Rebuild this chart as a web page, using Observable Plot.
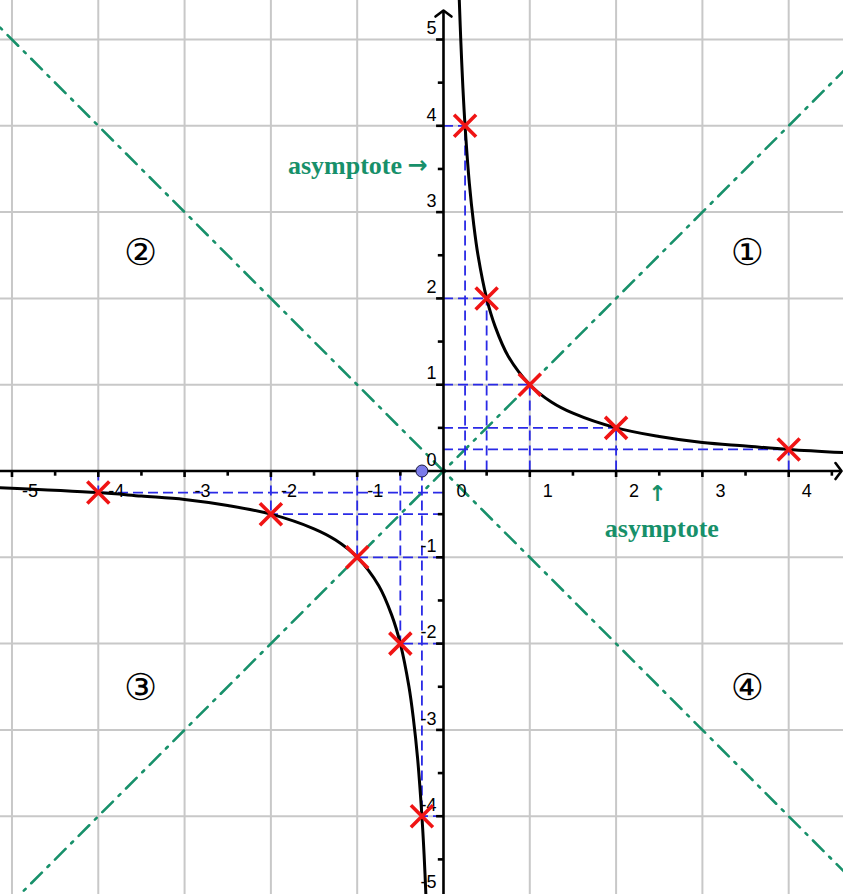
<!DOCTYPE html>
<html><head><meta charset="utf-8">
<script src="https://cdn.jsdelivr.net/npm/d3@7"></script>
<script src="https://cdn.jsdelivr.net/npm/@observablehq/plot@0.6"></script>
<style>html,body{margin:0;padding:0;background:#fff;} #chart svg{display:block;}</style>
</head><body><div id="chart"></div>
<script>
// ---- data ----
const xDomain = [-5.133, 4.635];
const yDomain = [-4.907, 5.452];
const gridX = [-5, -4, -3, -2, -1, 1, 2, 3, 4];
const gridY = [-4, -3, -2, -1, 1, 2, 3, 4, 5];
const majorTicksX = [-5, -4, -3, -2, -1, 1, 2, 3, 4];
const minorTicksX = [-4.5, -3.5, -2.5, -1.5, -0.5, 0.5, 1.5, 2.5, 3.5, 4.5];
const majorTicksY = [-4, -3, -2, -1, 1, 2, 3, 4, 5];
const minorTicksY = [-4.5, -3.5, -2.5, -1.5, -0.5, 0.5, 1.5, 2.5, 3.5, 4.5];
const xLabelValues = [-5, -4, -3, -2, -1, 0, 1, 2, 3, 4];
const xLabels = ["-5", "-4", "-3", "-2", "-1", "0", "1", "2", "3", "4"];
const yLabelValues = [5, 4, 3, 2, 1, 0, -1, -2, -3, -4];
const yLabels = ["5", "4", "3", "2", "1", "0", "-1", "-2", "-3", "-4"];
const yEdgeLabelValues = [-5];
const yEdgeLabels = ["-5"];

// curve y = 1/x
const curvePosX = [0.183, 0.2, 0.225, 0.25, 0.3, 0.35, 0.4, 0.5, 0.6, 0.75, 1, 1.25, 1.5, 2, 2.5, 3, 3.5, 4, 4.7];
const curvePosY = [5.46, 5, 4.44, 4, 3.33, 2.86, 2.5, 2, 1.67, 1.33, 1, 0.8, 0.67, 0.5, 0.4, 0.33, 0.29, 0.25, 0.21];
const curveNegX = [-5.2, -4, -3.5, -3, -2.5, -2, -1.5, -1.25, -1, -0.75, -0.6, -0.5, -0.4, -0.35, -0.3, -0.25, -0.225, -0.2];
const curveNegY = [-0.19, -0.25, -0.29, -0.33, -0.4, -0.5, -0.67, -0.8, -1, -1.33, -1.67, -2, -2.5, -2.86, -3.33, -4, -4.44, -5];

// marked points
const pointX = [0.25, 0.5, 1, 2, 4, -4, -2, -1, -0.5, -0.25];
const pointY = [4, 2, 1, 0.5, 0.25, -0.25, -0.5, -1, -2, -4];

// diagonal lines y = x and y = -x
const diagX = [-5.6, 5.6];

// quadrant labels
const quadLabels = ["①", "②", "③", "④"];
const quadX = [3.52, -3.51, -3.51, 3.52];
const quadY = [2.52, 2.52, -2.52, -2.52];

// annotations
const annTopText = ["asymptote"];
const annTopX = [-0.48];
const annTopY = [3.54];
const annTopArrow = ["→"];
const annTopArrowX = [-0.3];
const annBottomArrow = ["↑"];
const annBottomArrowX = [2.48];
const annBottomArrowY = [-0.27];
const annBottomText = ["asymptote"];
const annBottomX = [2.53];
const annBottomY = [-0.67];

// special point on x-axis
const markerPointX = [-0.25];
const markerPointY = [0];

// axis arrow tips
const arrowTipX = 4.612;
const arrowTipY = 5.336;

// ---- helpers ----
const curve = [
  ...curveNegX.map((x, i) => ({x, y: curveNegY[i], b: "neg"})),
  ...curvePosX.map((x, i) => ({x, y: curvePosY[i], b: "pos"}))
];
const points = pointX.map((x, i) => ({x, y: pointY[i]}));
const diagUp = diagX.map(x => ({x, y: x}));
const diagDown = diagX.map(x => ({x, y: -x}));
const quads = quadLabels.map((t, i) => ({t, x: quadX[i], y: quadY[i]}));

const crossSymbol = {draw(ctx, size) {
  const r = Math.sqrt(size / Math.PI);
  ctx.moveTo(-r, -r); ctx.lineTo(r, r);
  ctx.moveTo(-r, r); ctx.lineTo(r, -r);
}};
const chevronUp = {draw(ctx, size) {
  const r = Math.sqrt(size / Math.PI);
  ctx.moveTo(-r, r * 0.75); ctx.lineTo(0, 0); ctx.lineTo(r, r * 0.75);
}};
const chevronRight = {draw(ctx, size) {
  const r = Math.sqrt(size / Math.PI);
  ctx.moveTo(-r * 0.75, -r); ctx.lineTo(0, 0); ctx.lineTo(-r * 0.75, r);
}};

const green = "#17906a";
const blue = "#2a2ae6";
const labelFont = "'Liberation Sans', Arial, sans-serif";
const serif = "'Liberation Serif', 'Times New Roman', serif";

const chart = Plot.plot({
  width: 843,
  height: 894,
  margin: 0,
  x: {domain: xDomain, axis: null},
  y: {domain: yDomain, axis: null},
  style: {background: "#fff", fontFamily: labelFont},
  marks: [
    Plot.ruleX(gridX, {stroke: "#c8c8c8", strokeWidth: 2}),
    Plot.ruleY(gridY, {stroke: "#c8c8c8", strokeWidth: 2}),
    Plot.line(diagUp, {x: "x", y: "y", stroke: green, strokeWidth: 2.6, strokeDasharray: "15,8,2.5,8", clip: true}),
    Plot.line(diagDown, {x: "x", y: "y", stroke: green, strokeWidth: 2.6, strokeDasharray: "15,8,2.5,8", clip: true}),
    Plot.ruleX(points, {x: "x", y1: 0, y2: "y", stroke: blue, strokeWidth: 1.8, strokeDasharray: "10,5"}),
    Plot.ruleY(points, {y: "y", x1: 0, x2: "x", stroke: blue, strokeWidth: 1.8, strokeDasharray: "10,5"}),
    // axes
    Plot.ruleY([0], {x1: xDomain[0], x2: arrowTipX, stroke: "#000", strokeWidth: 2.6}),
    Plot.ruleX([0], {y1: yDomain[0], y2: arrowTipY, stroke: "#000", strokeWidth: 2.6}),
    Plot.ruleX(majorTicksX, {x: d => d, y1: 0, y2: -0.075, stroke: "#000", strokeWidth: 2.6}),
    Plot.ruleX(minorTicksX, {x: d => d, y1: 0, y2: -0.06, stroke: "#000", strokeWidth: 2.6}),
    Plot.ruleY(majorTicksY, {y: d => d, x1: 0, x2: -0.08, stroke: "#000", strokeWidth: 2.6}),
    Plot.ruleY(minorTicksY, {y: d => d, x1: 0, x2: -0.06, stroke: "#000", strokeWidth: 2.6}),
    Plot.dot([0], {x: 0, y: arrowTipY, symbol: chevronUp, r: 8, fill: "none", stroke: "#000", strokeWidth: 2.6, strokeLinecap: "round", strokeLinejoin: "round"}),
    Plot.dot([0], {x: arrowTipX, y: 0, symbol: chevronRight, r: 8, fill: "none", stroke: "#000", strokeWidth: 2.6, strokeLinecap: "round", strokeLinejoin: "round"}),
    // tick labels
    Plot.text(xLabelValues, {x: d => d, y: 0, text: (d, i) => xLabels[i], dx: 18, dy: 20, fontSize: 18, fill: "#000"}),
    Plot.text(yLabelValues, {x: 0, y: d => d, text: (d, i) => yLabels[i], dx: -7, dy: -11, textAnchor: "end", fontSize: 18, fill: "#000"}),
    Plot.text(yEdgeLabelValues, {x: 0, y: d => d, text: (d, i) => yEdgeLabels[i], dx: -7, dy: -20, textAnchor: "end", fontSize: 18, fill: "#000"}),
    // curve
    Plot.line(curve, {x: "x", y: "y", z: "b", stroke: "#000", strokeWidth: 3, curve: "catmull-rom", clip: true}),
    // quadrant labels
    Plot.text(quads, {x: "x", y: "y", text: "t", fontSize: 37, fontFamily: "'DejaVu Sans', sans-serif", fill: "#000"}),
    // annotations
    Plot.text(annTopText, {x: annTopX, y: annTopY, text: d => d, textAnchor: "end", fontSize: 26, fontWeight: "bold", fontFamily: serif, fill: green}),
    Plot.text(annTopArrow, {x: annTopArrowX, y: annTopY, text: d => d, fontSize: 24, fontWeight: "bold", fontFamily: "'DejaVu Sans', sans-serif", fill: green}),
    Plot.text(annBottomArrow, {x: annBottomArrowX, y: annBottomArrowY, text: d => d, fontSize: 22, fontWeight: "bold", fontFamily: "'DejaVu Sans', sans-serif", fill: green}),
    Plot.text(annBottomText, {x: annBottomX, y: annBottomY, text: d => d, fontSize: 26, fontWeight: "bold", fontFamily: serif, fill: green}),
    // crosses
    Plot.dot(points, {x: "x", y: "y", symbol: crossSymbol, r: 11, fill: "none", stroke: "#f01414", strokeWidth: 3.6}),
    Plot.dot(markerPointX.map((x, i) => ({x, y: markerPointY[i]})), {x: "x", y: "y", r: 6, fill: "#7b7bea", stroke: "#1a1a40", strokeWidth: 1})
  ]
});
document.getElementById("chart").appendChild(chart);
</script>
</body></html>
